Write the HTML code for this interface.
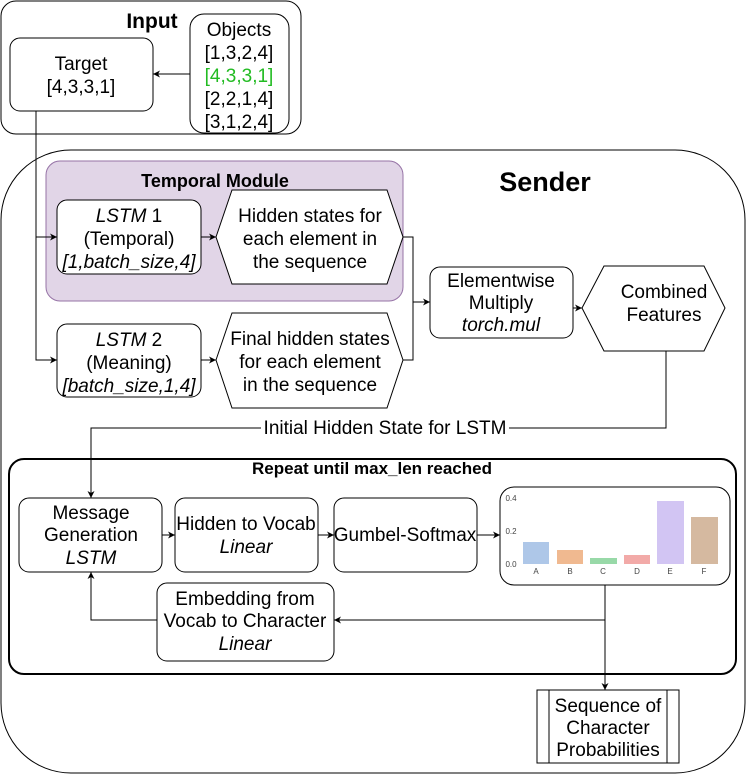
<!DOCTYPE html>
<html><head><meta charset="utf-8"><style>html,body{margin:0;padding:0;background:#fff}svg{display:block}text{font-family:"Liberation Sans",sans-serif}</style></head>
<body>
<svg width="747" height="775" viewBox="0 0 747 775" xmlns="http://www.w3.org/2000/svg">
<defs><marker id="a" markerWidth="8" markerHeight="8" refX="7" refY="4" orient="auto" markerUnits="userSpaceOnUse"><path d="M0,0.5 L7,4 L0,7.5 L2,4 z" fill="#000"/></marker></defs>
<g fill="none" stroke="#000" stroke-width="1">
<rect x="1" y="1" width="300" height="133" rx="15" fill="#fff"/>
<rect x="10" y="38" width="143" height="73" rx="10" fill="#fff"/>
<rect x="190" y="14" width="99" height="119" rx="14" fill="#fff"/>
<line x1="190" y1="74" x2="153" y2="74" marker-end="url(#a)"/>
<rect x="1" y="150" width="744" height="623" rx="70" fill="#fff"/>
<rect x="46" y="161" width="357" height="140" rx="14" fill="#e1d5e7" stroke="#9673a6"/>
<rect x="57" y="200" width="144" height="74" rx="10" fill="#fff"/>
<polygon points="216,237 232,190 387,190 403,237 387,284 232,284" fill="#fff"/>
<rect x="57" y="324" width="144" height="73" rx="10" fill="#fff"/>
<polygon points="216,360 232,313 387,313 403,360 387,408 232,408" fill="#fff"/>
<path d="M36,111 V360 H57" marker-end="url(#a)"/>
<path d="M36,237 H57" marker-end="url(#a)"/>
<line x1="201" y1="237" x2="216" y2="237" marker-end="url(#a)"/>
<line x1="201" y1="360" x2="216" y2="360" marker-end="url(#a)"/>
<path d="M403,237 H413 V360 H403"/>
<path d="M413,302 H430" marker-end="url(#a)"/>
<rect x="430" y="267" width="143" height="71" rx="10" fill="#fff"/>
<polygon points="582,308 604,266 704,266 725,308 704,351 604,351" fill="#fff"/>
<line x1="573" y1="308" x2="582" y2="308" marker-end="url(#a)"/>
<rect x="9" y="459" width="727" height="215" rx="15" fill="#fff" stroke-width="2"/>
<path d="M666,351 V428 H91 V498" marker-end="url(#a)"/>
<rect x="19" y="498" width="143" height="74" rx="10" fill="#fff"/>
<rect x="175" y="498" width="143" height="74" rx="10" fill="#fff"/>
<rect x="334" y="498" width="143" height="74" rx="10" fill="#fff"/>
<rect x="500" y="487" width="230" height="98" rx="14" fill="#fff"/>
<rect x="157" y="583" width="177" height="78" rx="10" fill="#fff"/>
<line x1="162" y1="535" x2="175" y2="535" marker-end="url(#a)"/>
<line x1="318" y1="535" x2="334" y2="535" marker-end="url(#a)"/>
<line x1="477" y1="535" x2="500" y2="535" marker-end="url(#a)"/>
<path d="M605,585 V620 H334" marker-end="url(#a)"/>
<path d="M157,620 H91 V572" marker-end="url(#a)"/>
<path d="M605,620 V690" marker-end="url(#a)"/>
<rect x="537" y="690" width="142" height="73" fill="#fff"/>
<line x1="549" y1="690" x2="549" y2="763"/>
<line x1="667" y1="690" x2="667" y2="763"/>
</g>
<rect x="261" y="419" width="248" height="18" fill="#fff"/>
<g>
<rect x="523" y="542" width="26" height="22" fill="#aec7e8"/>
<rect x="557" y="550" width="26" height="14" fill="#f0b990"/>
<rect x="590" y="558" width="27" height="6" fill="#98d9a8"/>
<rect x="624" y="555" width="26" height="9" fill="#f2aaa8"/>
<rect x="657" y="501" width="27" height="63" fill="#d2c5f3"/>
<rect x="691" y="517" width="27" height="47" fill="#d5b9a0"/>
<g font-size="8" fill="#444" text-anchor="middle">
<text x="511" y="501">0.4</text><text x="511" y="534">0.2</text><text x="511" y="567">0.0</text>
<text x="536" y="574">A</text><text x="570" y="574">B</text><text x="603" y="574">C</text><text x="637" y="574">D</text><text x="670" y="574">E</text><text x="704" y="574">F</text>
</g></g>
<g font-size="19" text-anchor="middle" fill="#000">
<text x="152" y="28" font-size="21" font-weight="bold">Input</text>
<text x="81" y="70">Target</text><text x="81" y="93">[4,3,3,1]</text>
<text x="239" y="36">Objects</text><text x="239" y="59">[1,3,2,4]</text><text x="239" y="82" fill="#22bb22">[4,3,3,1]</text><text x="239" y="105">[2,2,1,4]</text><text x="239" y="128">[3,1,2,4]</text>
<text x="545" y="191" font-size="27" font-weight="bold">Sender</text>
<text x="215" y="187" font-size="18" font-weight="bold">Temporal Module</text>
<text x="129" y="222"><tspan font-style="italic">LSTM</tspan> 1</text><text x="129" y="245">(Temporal)</text><text x="129" y="268" font-style="italic">[1,batch_size,4]</text>
<text x="310" y="222">Hidden states for</text><text x="310" y="245">each element in</text><text x="310" y="268">the sequence</text>
<text x="129" y="346"><tspan font-style="italic">LSTM</tspan> 2</text><text x="129" y="369">(Meaning)</text><text x="129" y="392" font-style="italic">[batch_size,1,4]</text>
<text x="310" y="345">Final hidden states</text><text x="310" y="368">for each element</text><text x="310" y="391">in the sequence</text>
<text x="501" y="287">Elementwise</text><text x="501" y="309">Multiply</text><text x="501" y="331" font-style="italic">torch.mul</text>
<text x="664" y="298">Combined</text><text x="664" y="321">Features</text>
<text x="385" y="434">Initial Hidden State for LSTM</text>
<text x="372" y="474" font-size="17" font-weight="bold">Repeat until max_len reached</text>
<text x="91" y="519">Message</text><text x="91" y="541">Generation</text><text x="91" y="564" font-style="italic">LSTM</text>
<text x="246" y="530">Hidden to Vocab</text><text x="246" y="553" font-style="italic">Linear</text>
<text x="405" y="541">Gumbel-Softmax</text>
<text x="245" y="605">Embedding from</text><text x="245" y="627">Vocab to Character</text><text x="245" y="650" font-style="italic">Linear</text>
<text x="608" y="712">Sequence of</text><text x="608" y="734">Character</text><text x="608" y="756">Probabilities</text>
</g>
</svg>
</body></html>
